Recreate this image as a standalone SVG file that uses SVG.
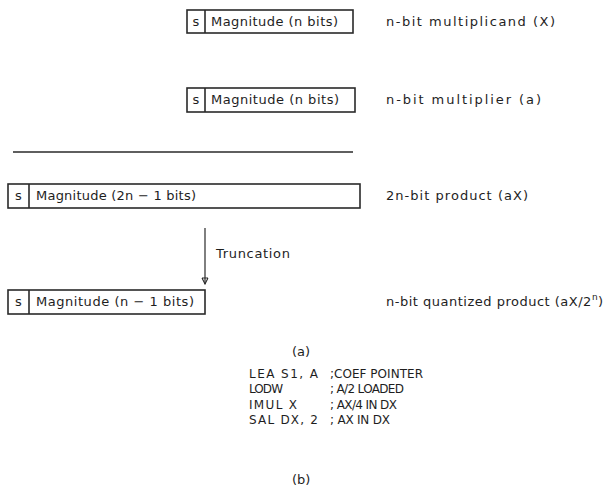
<svg xmlns="http://www.w3.org/2000/svg" width="604" height="504" viewBox="0 0 604 504">
  <style>
    text { font-family: "DejaVu Sans", "Liberation Sans", sans-serif; font-size: 13px; fill: #1e1e1e; }
    .code { font-size: 12px; }
    .mid { text-anchor: middle; }
    .box { fill: none; stroke: #2a2a2a; stroke-width: 1.6; }
    .div { stroke: #2a2a2a; stroke-width: 1.6; }
    .rule { stroke: #2a2a2a; stroke-width: 1.6; }
    .conn { stroke: #2a2a2a; stroke-width: 1.2; fill: none; }
  </style>
  <defs>
    <marker id="tip" markerWidth="8" markerHeight="8" refX="7" refY="4" orient="auto" markerUnits="userSpaceOnUse">
      <path d="M1,1 L1,7 M1,1 L7,4 L1,7" fill="none" stroke="#2a2a2a" stroke-width="1.1"/>
    </marker>
  </defs>

  <rect width="604" height="504" fill="#fff"/>

  <!-- n-bit multiplicand -->
  <g id="multiplicand">
    <rect class="box" x="187" y="10" width="166" height="23"/>
    <line class="div" x1="205" y1="10" x2="205" y2="33"/>
    <text class="mid" x="196" y="26">s</text>
    <text x="211" y="26" textLength="127" lengthAdjust="spacing">Magnitude (n bits)</text>
    <text x="386" y="26" textLength="169" lengthAdjust="spacing">n-bit multiplicand (X)</text>
  </g>

  <!-- n-bit multiplier -->
  <g id="multiplier">
    <rect class="box" x="187" y="88" width="168" height="24"/>
    <line class="div" x1="205" y1="88" x2="205" y2="112"/>
    <text class="mid" x="196" y="104">s</text>
    <text x="211" y="104" textLength="128" lengthAdjust="spacing">Magnitude (n bits)</text>
    <text x="386" y="104" textLength="155" lengthAdjust="spacing">n-bit multiplier (a)</text>
  </g>

  <!-- rule under the operands -->
  <line class="rule" x1="13" y1="152" x2="353" y2="152"/>

  <!-- 2n-bit product -->
  <g id="product">
    <rect class="box" x="8" y="184" width="352" height="24"/>
    <line class="div" x1="29" y1="184" x2="29" y2="208"/>
    <text class="mid" x="18.5" y="200">s</text>
    <text x="36" y="200" textLength="160" lengthAdjust="spacing">Magnitude (2n − 1 bits)</text>
    <text x="386" y="200" textLength="142" lengthAdjust="spacing">2n-bit product (aX)</text>
  </g>

  <!-- quantized product; the label runs off the right edge -->
  <g id="quantized">
    <rect class="box" x="8" y="290" width="197" height="24"/>
    <line class="div" x1="29" y1="290" x2="29" y2="314"/>
    <text class="mid" x="18.5" y="306">s</text>
    <text x="36" y="306" textLength="158" lengthAdjust="spacing">Magnitude (n − 1 bits)</text>
    <text x="386" y="306" letter-spacing="0.5">n-bit quantized product (aX/2<tspan font-size="9" dy="-6">n</tspan><tspan dy="6">)</tspan></text>
  </g>

  <!-- truncation connector -->
  <g id="connectors">
    <line class="conn" x1="205" y1="228" x2="205" y2="284" marker-end="url(#tip)"/>
    <text x="216" y="258" textLength="74" lengthAdjust="spacing">Truncation</text>
  </g>

  <text x="292" y="356">(a)</text>

  <!-- program listing -->
  <g id="listing">
    <text class="code" x="249" y="378" textLength="69" lengthAdjust="spacing">LEA S1, A</text>
    <text class="code" x="330" y="378" textLength="93" lengthAdjust="spacing">;COEF POINTER</text>
    <text class="code" x="249" y="393" textLength="34" lengthAdjust="spacing">LODW</text>
    <text class="code" x="330" y="393" textLength="74" lengthAdjust="spacing">; A/2 LOADED</text>
    <text class="code" x="249" y="409" textLength="48" lengthAdjust="spacing">IMUL X</text>
    <text class="code" x="330" y="409" textLength="67" lengthAdjust="spacing">; AX/4 IN DX</text>
    <text class="code" x="249" y="424" textLength="69" lengthAdjust="spacing">SAL DX, 2</text>
    <text class="code" x="330" y="424" textLength="60" lengthAdjust="spacing">; AX IN DX</text>
  </g>

  <text x="292" y="484">(b)</text>
</svg>
